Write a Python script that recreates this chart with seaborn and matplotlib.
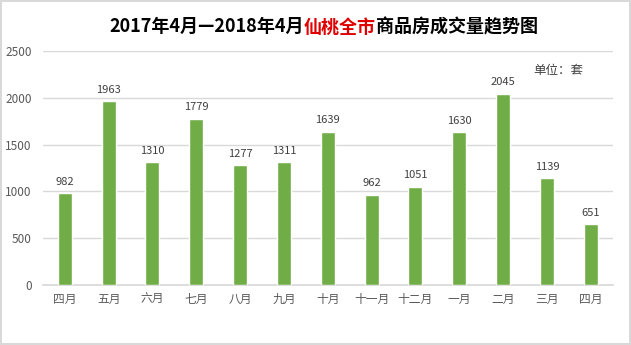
import matplotlib
matplotlib.use("Agg")
import matplotlib.pyplot as plt
import seaborn as sns
import pandas as pd

months = ["四月", "五月", "六月", "七月", "八月", "九月", "十月",
          "十一月", "十二月", "一月", "二月", "三月", "四月"]
sales = [982, 1963, 1310, 1779, 1277, 1311, 1639, 962, 1051, 1630, 2045, 1139, 651]
yticks = [0, 500, 1000, 1500, 2000, 2500]

sns.set_theme(style="white")
plt.rcParams["font.family"] = ["Noto Sans CJK SC", "DejaVu Sans"]

df = pd.DataFrame({"pos": range(len(months)), "sales": sales})

fig = plt.figure(figsize=(6.31, 3.45), dpi=100)
fig.patch.set_edgecolor("#d9d9d9")
fig.patch.set_linewidth(1.5)
ax = fig.add_axes([0.068, 0.174, 0.903, 0.678])

sns.barplot(data=df, x="pos", y="sales", color="#70ad47", saturation=1,
            width=0.32, ax=ax, zorder=3)

ax.set_ylim(0, 2500)
ax.set_yticks(yticks)
ax.set_yticklabels([str(v) for v in yticks])
ax.set_xticks(range(len(months)))
ax.set_xticklabels(months)
ax.set_xlim(-0.5, len(months) - 0.5)
ax.tick_params(axis="both", length=0, labelsize=8.5, colors="#595959")
ax.tick_params(axis="y", pad=8)
ax.tick_params(axis="x", pad=6)
ax.set_xlabel("")
ax.set_ylabel("")
ax.yaxis.grid(True, color="#d9d9d9", linewidth=1, zorder=0)
for side in ["top", "left", "right"]:
    ax.spines[side].set_visible(False)
ax.spines["bottom"].set_color("#d9d9d9")

for i, v in enumerate(sales):
    ax.text(i, v + 70, str(v), ha="center", va="bottom", fontsize=8,
            color="#404040")

ax.text(0.905, 0.916, "单位：套", transform=ax.transAxes, fontsize=9,
        color="#404040", ha="center", va="center")

# Title with highlighted city name
title_y = 0.922
parts = [("2017年4月—2018年4月", "black"), ("仙桃全市", "#e00000"),
         ("商品房成交量趋势图", "black")]
renderer = fig.canvas.get_renderer()
texts = []
for s, c in parts:
    t = fig.text(0, title_y, s, fontsize=13, fontweight="bold", color=c,
                 va="center", ha="left")
    texts.append(t)
widths = [t.get_window_extent(renderer).width for t in texts]
total = sum(widths)
x = 0.513 * fig.bbox.width - total / 2
for t, w in zip(texts, widths):
    t.set_x(x / fig.bbox.width)
    x += w

fig.savefig("out.png", dpi=100)
